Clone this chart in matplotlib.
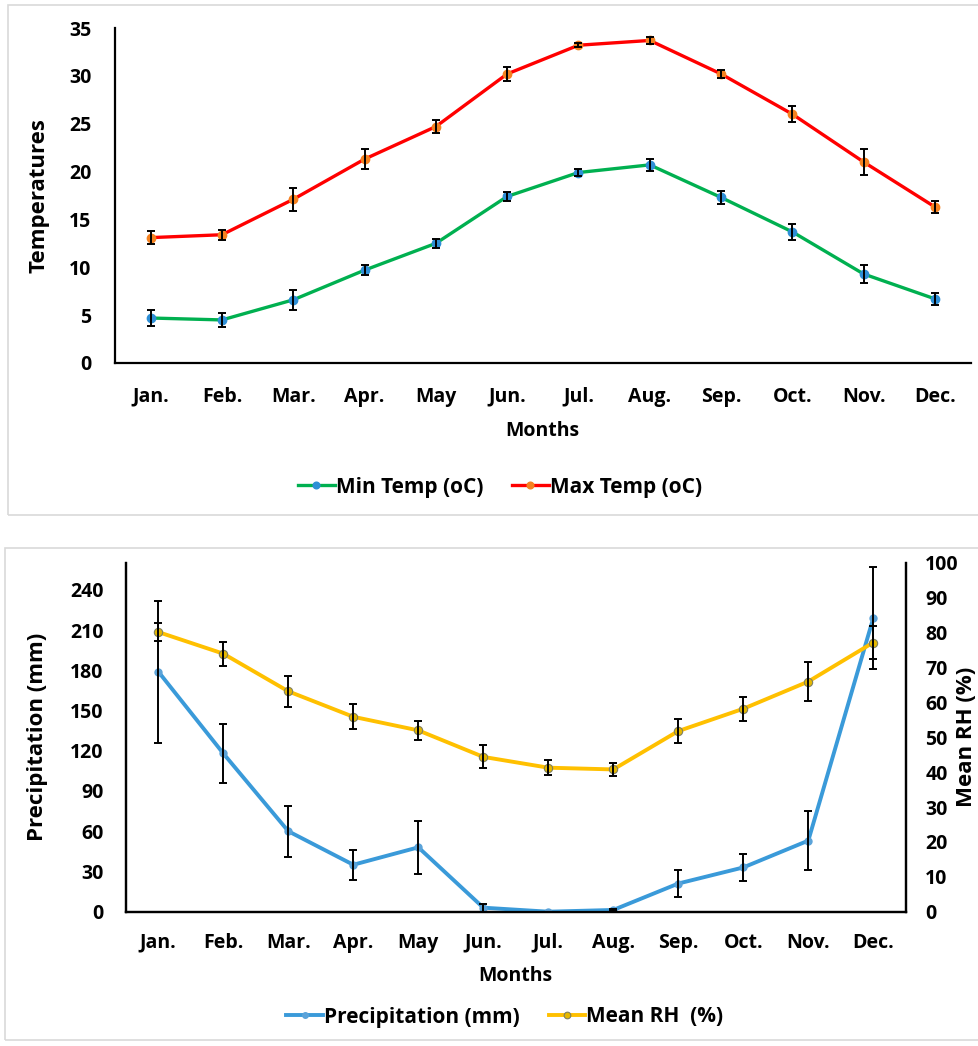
import matplotlib
matplotlib.use("Agg")
import matplotlib.pyplot as plt
from matplotlib.patches import Rectangle
import numpy as np

months = ["Jan.", "Feb.", "Mar.", "Apr.", "May", "Jun.", "Jul.", "Aug.", "Sep.", "Oct.", "Nov.", "Dec."]

min_temp = [4.7, 4.5, 6.6, 9.7, 12.5, 17.4, 19.9, 20.7, 17.3, 13.7, 9.3, 6.7]
min_temp_err = [0.8, 0.75, 1.05, 0.5, 0.5, 0.5, 0.4, 0.65, 0.65, 0.85, 0.95, 0.6]
max_temp = [13.1, 13.4, 17.1, 21.3, 24.7, 30.2, 33.2, 33.7, 30.2, 26.0, 21.0, 16.3]
max_temp_err = [0.65, 0.5, 1.2, 1.05, 0.65, 0.75, 0.2, 0.35, 0.4, 0.85, 1.35, 0.65]

precip = [179, 118, 60, 35, 48, 3, 0, 1.3, 21, 33, 53, 219]
precip_err = [53, 22, 19, 11, 20, 3, 0, 1, 10, 10, 22, 38]
rh = [80.2, 74.0, 63.2, 55.9, 52.0, 44.4, 41.3, 40.8, 51.8, 58.2, 66.0, 77.2]
rh_err = [2.6, 3.4, 4.4, 3.6, 2.8, 3.3, 2.1, 1.9, 3.4, 3.4, 5.7, 4.8]

plt.rcParams['font.family'] = ['Open Sans', 'DejaVu Sans']
plt.rcParams['font.weight'] = 'bold'

W, H = 979, 1046
fig = plt.figure(figsize=(W / 100, H / 100), dpi=100)

def fx(px):
    return px / W

def fy(py):
    return 1 - py / H

# panel borders
fig.patches.append(Rectangle((fx(8), fy(515)), fx(979) - fx(8) + 0.01, fy(5) - fy(515),
                             transform=fig.transFigure, fill=False, edgecolor='#d9d9d9', lw=1.2))
fig.patches.append(Rectangle((fx(5), fy(1040)), fx(979) - fx(5) + 0.01, fy(548) - fy(1040),
                             transform=fig.transFigure, fill=False, edgecolor='#d9d9d9', lw=1.2))

x = np.arange(len(months))
tick_fs = 14
lab_fs = 16
leg_fs = 15

# ---------------- Top chart ----------------
ax1 = fig.add_axes([fx(115), fy(363), fx(970.6) - fx(115), fy(28) - fy(363)])
l1, = ax1.plot(x, min_temp, color='#00B050', lw=2.4, marker='o', ms=6,
               mfc='#2E8FD6', mec='#2E8FD6', label='Min Temp (oC)', zorder=3)
l2, = ax1.plot(x, max_temp, color='#FF0000', lw=2.4, marker='o', ms=6,
               mfc='#F58220', mec='#F58220', label='Max Temp (oC)', zorder=3)
ax1.errorbar(x, min_temp, yerr=min_temp_err, fmt='none', ecolor='black', elinewidth=1.4,
             capsize=3, capthick=1.4, zorder=4)
ax1.errorbar(x, max_temp, yerr=max_temp_err, fmt='none', ecolor='black', elinewidth=1.4,
             capsize=3, capthick=1.4, zorder=4)
ax1.set_xlim(-0.5, 11.5)
ax1.set_ylim(0, 35)
ax1.set_yticks(np.arange(0, 36, 5))
ax1.set_xticks(x)
ax1.set_xticklabels(months)
for s in ['top', 'right']:
    ax1.spines[s].set_visible(False)
for s in ['left', 'bottom']:
    ax1.spines[s].set_linewidth(1.6)
    ax1.spines[s].set_color('black')
ax1.tick_params(axis='x', length=0, pad=17, labelsize=tick_fs)
ax1.tick_params(axis='y', length=0, pad=17, labelsize=tick_fs)
for t in ax1.get_xticklabels() + ax1.get_yticklabels():
    t.set_fontweight('bold')
ax1.set_ylabel('Temperatures', fontsize=lab_fs, fontweight='bold')
ax1.yaxis.set_label_coords((50 - 115) / 855.6, 0.5)
ax1.set_xlabel('Months', fontsize=tick_fs, fontweight='bold')
ax1.xaxis.set_label_coords(0.5, (363 - 421) / 335)
fig.legend(handles=[l1, l2], loc='center', bbox_to_anchor=(fx(500), fy(487)), ncol=2,
           frameon=False, fontsize=leg_fs, handlelength=1.75, handletextpad=0.05,
           columnspacing=1.4, markerscale=0.8)

# ---------------- Bottom chart ----------------
ax2 = fig.add_axes([fx(125.8), fy(911.7), fx(905.8) - fx(125.8), fy(563) - fy(911.7)])
ax3 = ax2.twinx()
l3, = ax2.plot(x, precip, color='#3A9AD9', lw=2.8, marker='o', ms=5,
               mfc='#5BA3D9', mec='#5BA3D9', label='Precipitation (mm)', zorder=3)
ax2.errorbar(x, precip, yerr=precip_err, fmt='none', ecolor='black', elinewidth=1.4,
             capsize=3, capthick=1.4, zorder=4)
l4, = ax3.plot(x, rh, color='#FFC000', lw=2.8, marker='o', ms=6,
               mfc='#E6B800', mec='#7F7F5F', mew=0.8, label='Mean RH  (%)', zorder=3)
ax3.errorbar(x, rh, yerr=rh_err, fmt='none', ecolor='black', elinewidth=1.4,
             capsize=3, capthick=1.4, zorder=4)
ax2.set_xlim(-0.5, 11.5)
ax2.set_ylim(0, 260)
ax2.set_yticks(np.arange(0, 241, 30))
ax3.set_ylim(0, 100)
ax3.set_yticks(np.arange(0, 101, 10))
ax2.set_xticks(x)
ax2.set_xticklabels(months)
for a in (ax2, ax3):
    a.spines['top'].set_visible(False)
    for s in ['left', 'bottom', 'right']:
        a.spines[s].set_linewidth(1.6)
        a.spines[s].set_color('black')
ax2.tick_params(axis='x', length=0, pad=15, labelsize=tick_fs)
ax2.tick_params(axis='y', length=0, pad=16, labelsize=tick_fs)
ax3.tick_params(axis='y', length=0, pad=14, labelsize=tick_fs)
for t in ax2.get_xticklabels() + ax2.get_yticklabels() + ax3.get_yticklabels():
    t.set_fontweight('bold')
ax2.set_ylabel('Precipitation (mm)', fontsize=lab_fs, fontweight='bold')
ax2.yaxis.set_label_coords((48 - 125.8) / 780, 0.5)
ax3.set_ylabel('Mean RH (%)', fontsize=lab_fs, fontweight='bold', rotation=90)
ax3.yaxis.set_label_coords((956 - 125.8) / 780, 0.5)
ax2.set_xlabel('Months', fontsize=tick_fs, fontweight='bold')
ax2.xaxis.set_label_coords(0.5, (911.7 - 966) / 348.7)
fig.legend(handles=[l3, l4], loc='center', bbox_to_anchor=(fx(505), fy(1017)), ncol=2,
           frameon=False, fontsize=leg_fs, handlelength=1.75, handletextpad=0.05,
           columnspacing=1.4, markerscale=0.8)

fig.savefig('out.png', dpi=100)
